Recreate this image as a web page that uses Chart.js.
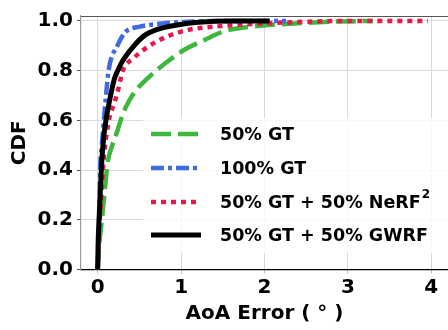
<!DOCTYPE html>
<html>
<head>
<meta charset="utf-8">
<script src="https://cdn.jsdelivr.net/npm/chart.js@4"></script>
<style>
  body { margin: 0; background: #fff; }
  canvas { display: block; }
</style>
</head>
<body>
<canvas id="cdfChart" width="448" height="330"></canvas>
<script>
// tick positions
const xTicks = [0, 1, 2, 3, 4];
const yTicks = [0, 0.2, 0.4, 0.6, 0.8, 1.0];

// series (AoA error in degrees, CDF)
const gt50X = [0, 0.02, 0.05, 0.08, 0.12, 0.175, 0.235, 0.28, 0.34, 0.415, 0.5, 0.6, 0.83, 1.05, 1.27, 1.51, 1.92, 2.31, 2.8, 3.3];
const gt50Y = [0, 0.1, 0.2, 0.3, 0.43, 0.5, 0.556, 0.605, 0.655, 0.7, 0.737, 0.77, 0.835, 0.886, 0.922, 0.958, 0.98, 0.989, 0.997, 1.0];

const gt100X = [0, 0.01, 0.02, 0.03, 0.05, 0.076, 0.1, 0.13, 0.235, 0.335, 0.49, 0.78, 1.2, 1.6, 2.26];
const gt100Y = [0, 0.1, 0.2, 0.4, 0.5, 0.61, 0.7, 0.8, 0.9, 0.956, 0.976, 0.99, 0.998, 1.0, 1.0];

const nerfX = [0, 0.01, 0.025, 0.045, 0.07, 0.1, 0.14, 0.2, 0.25, 0.3, 0.43, 0.62, 0.85, 1.1, 1.5, 2.0, 2.6, 3.1, 3.96];
const nerfY = [0, 0.1, 0.2, 0.3, 0.44, 0.53, 0.61, 0.67, 0.73, 0.8, 0.85, 0.9, 0.94, 0.965, 0.98, 0.99, 0.998, 1.0, 1.0];

const gwrfX = [0, 0.005, 0.016, 0.03, 0.05, 0.075, 0.104, 0.155, 0.2, 0.24, 0.3, 0.435, 0.555, 0.715, 0.97, 1.21, 1.6, 2.06];
const gwrfY = [0, 0.1, 0.2, 0.3, 0.44, 0.54, 0.61, 0.7, 0.767, 0.8, 0.84, 0.9, 0.94, 0.966, 0.985, 0.995, 1.0, 1.0];

function pts(xs, ys) {
    return xs.map((x, i) => ({x: x, y: ys[i]}));
}

Chart.defaults.font.family = 'DejaVu Sans';
Chart.defaults.font.weight = 'bold';
Chart.defaults.color = '#000';

// legend drawn inside the plot, like the original
const innerLegend = {
    id: 'innerLegend',
    afterDatasetsDraw(chart) {
        const ctx = chart.ctx;
        const area = chart.chartArea;
        ctx.save();
        // top spine
        ctx.strokeStyle = '#555';
        ctx.lineWidth = 1;
        ctx.beginPath();
        ctx.moveTo(area.left, area.top + 0.5);
        ctx.lineTo(area.right, area.top + 0.5);
        ctx.stroke();

        ctx.fillStyle = 'rgba(255,255,255,0.8)';
        ctx.fillRect(143, 118, 305, 135);

        const rowY = [134, 168, 202, 235];
        chart.data.datasets.forEach((ds, i) => {
            const y = rowY[i];
            ctx.strokeStyle = ds.borderColor;
            ctx.lineWidth = ds.borderWidth;
            ctx.setLineDash(ds.borderDash || []);
            ctx.beginPath();
            ctx.moveTo(151, y);
            ctx.lineTo(201, y);
            ctx.stroke();
            ctx.setLineDash([]);

            ctx.fillStyle = '#000';
            ctx.font = 'bold 17.5px "DejaVu Sans"';
            ctx.textBaseline = 'middle';
            ctx.textAlign = 'left';
            if (ds.label.endsWith('²')) {
                const base = ds.label.slice(0, -1);
                ctx.fillText(base, 220, y + 1);
                const w = ctx.measureText(base).width;
                ctx.font = 'bold 12px "DejaVu Sans"';
                ctx.fillText('2', 220 + w + 1, y - 7);
            } else {
                ctx.fillText(ds.label, 220, y + 1);
            }
        });
        ctx.restore();
    }
};

new Chart(document.getElementById('cdfChart').getContext('2d'), {
    type: 'line',
    data: {
        datasets: [{
            label: '50% GT',
            data: pts(gt50X, gt50Y),
            borderColor: '#3db73d',
            borderWidth: 4.5,
            borderDash: [20, 7],
            order: 3
        }, {
            label: '100% GT',
            data: pts(gt100X, gt100Y),
            borderColor: '#4169e1',
            borderWidth: 4.5,
            borderDash: [13, 4, 4, 4],
            order: 2
        }, {
            label: '50% GT + 50% NeRF²',
            data: pts(nerfX, nerfY),
            borderColor: '#e8184a',
            borderWidth: 4.5,
            borderDash: [5, 5],
            order: 1
        }, {
            label: '50% GT + 50% GWRF',
            data: pts(gwrfX, gwrfY),
            borderColor: '#000000',
            borderWidth: 5,
            order: 0
        }]
    },
    options: {
        responsive: false,
        animation: false,
        layout: {padding: {top: 13, right: 0, left: 0, bottom: 0}},
        elements: {
            point: {radius: 0},
            line: {tension: 0, cubicInterpolationMode: 'monotone', borderCapStyle: 'butt', fill: false}
        },
        plugins: {
            legend: {display: false},
            tooltip: {enabled: false}
        },
        scales: {
            x: {
                type: 'linear',
                min: -0.2,
                max: 4.2,
                afterFit: s => { s.height = 60.5; },
                afterBuildTicks: s => { s.ticks = xTicks.map(v => ({value: v})); },
                grid: {color: '#dadada', tickLength: 4, tickColor: '#bbb'},
                border: {color: '#000', width: 1.2},
                ticks: {font: {size: 20}, padding: 2, callback: v => String(v)},
                title: {display: true, text: 'AoA Error ( ° )', font: {size: 20}, padding: {bottom: 4}}
            },
            y: {
                min: 0,
                max: 1.02,
                afterFit: s => { s.width = 81; },
                afterBuildTicks: s => { s.ticks = yTicks.map(v => ({value: v})); },
                grid: {color: '#dadada', tickLength: 4, tickColor: '#555'},
                border: {color: '#999', width: 1.2},
                ticks: {font: {size: 20}, padding: 4, callback: v => v.toFixed(1)},
                title: {display: true, text: 'CDF', font: {size: 20}, padding: {top: 8}}
            }
        }
    },
    plugins: [innerLegend]
});
</script>
</body>
</html>
